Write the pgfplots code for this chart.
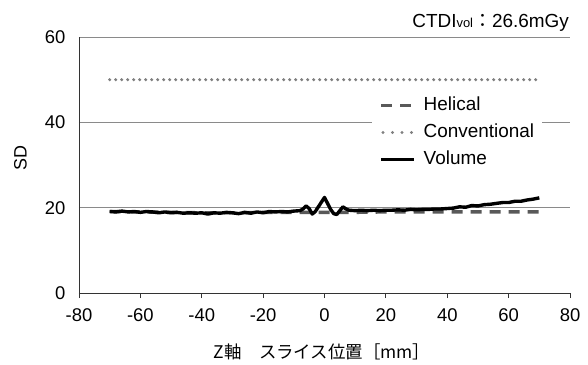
\documentclass[border=0pt]{standalone}
\usepackage{pgfplots}
\pgfplotsset{compat=1.18}
\usepackage{fontspec}
\setmainfont{Liberation Sans}
\newfontfamily\jp{Noto Sans CJK JP}

\definecolor{helgray}{HTML}{595959}
\definecolor{convgray}{HTML}{808080}
\definecolor{gridgray}{HTML}{8A8A8A}

% legend sample with wider dot spacing for the dotted series
\pgfplotsset{
  dotlegend/.style={
    legend image code/.code={\draw[##1, dash pattern=on 0bp off 9.5bp] (2bp,0bp) -- (33bp,0bp);}
  }
}

\pgfplotstableread{
z    sd
-70  19.1
-60  19.0
-50  18.9
-40  18.8
-30  18.8
-20  18.9
-10  18.9
0    18.9
10   18.9
20   19.0
30   19.0
40   19.0
50   19.0
60   19.0
70   19.0
}\helical

\pgfplotstableread{
z    sd
-70  50
70   50
}\conventional

\pgfplotstableread{
z    sd
-70  19.1
-68  19.0
-66  19.2
-64  19.0
-62  19.1
-60  18.9
-58  19.1
-56  19.0
-54  18.8
-52  19.0
-50  18.8
-48  18.9
-46  18.7
-44  18.8
-42  18.7
-40  18.8
-38  18.5
-36  18.8
-34  18.7
-32  18.9
-30  18.8
-28  18.6
-26  18.9
-24  18.7
-22  19.0
-20  18.8
-18  19.1
-16  19.0
-14  19.1
-12  19.0
-10  19.2
-8   19.3
-7   19.7
-6   20.4
-5   19.8
-4   18.5
-3   19.1
-2   20.2
-1   21.3
0    22.4
1    21.0
2    19.6
3    18.6
4    18.4
5    19.3
6    20.2
7    19.7
8    19.4
10   19.3
12   19.4
14   19.3
16   19.4
18   19.3
20   19.4
22   19.4
24   19.5
26   19.4
28   19.6
30   19.5
32   19.6
34   19.6
36   19.7
38   19.7
40   19.8
42   19.9
44   20.2
46   20.1
48   20.5
50   20.4
52   20.7
54   20.8
56   21.0
58   21.2
60   21.2
62   21.5
64   21.5
66   21.8
68   22.0
70   22.3
}\volume

\begin{document}
\begin{tikzpicture}
\begin{axis}[
  scale only axis,
  width=491bp, height=256bp,
  xmin=-80, xmax=80, ymin=0, ymax=60,
  xtick={-80,-60,...,80},
  ytick={0,20,40,60},
  axis x line*=bottom, axis y line*=left,
  axis line style={draw=black!80, line width=0.8pt},
  ymajorgrids,
  grid style={draw=gridgray, line width=0.7pt},
  x tick style={draw=black!80, line width=0.8pt},
  xtick align=outside,
  major tick length=5bp,
  y tick style={draw=none},
  /pgf/number format/assume math mode=true,
  tick label style={font=\fontsize{18.5}{22}\selectfont},
  yticklabel style={xshift=-10bp},
  xticklabel style={yshift=-7bp},
  xlabel={{\jp Z軸　スライス位置［mm］}},
  xlabel style={at={(axis description cs:0.495,-0.23)}, anchor=center, font=\fontsize{17.5}{21}\selectfont},
  ylabel={SD},
  ylabel style={at={(axis description cs:-0.1194,0.527)}, anchor=center, font=\fontsize{18}{21}\selectfont},
  clip=false,
  legend cell align=left,
  legend image code/.code={\draw[#1] (0bp,0bp) -- (33bp,0bp);},
  legend style={
    at={(rel axis cs:0.597,0.78)}, anchor=north west,
    draw=none, fill=white,
    inner xsep=7bp, inner ysep=2bp,
    font=\fontsize{19}{22}\selectfont,
    nodes={inner sep=1bp, text height=14bp, text depth=4bp},
    row sep=7bp,
    /tikz/every odd column/.append style={column sep=7bp},
  },
]
\addplot[helgray, line width=3.4pt, dash pattern=on 11bp off 8bp] table[x=z, y=sd] {\helical};
\addlegendentry{Helical}
\addplot[convgray, line width=3.3pt, line cap=round, dash pattern=on 0bp off 6bp, dotlegend]
  table[x=z, y=sd] {\conventional};
\addlegendentry{Conventional}
\addplot[black, line width=3.4pt, line join=round] table[x=z, y=sd] {\volume};
\addlegendentry{Volume}
\node[anchor=base east, inner sep=0pt, font=\fontsize{19}{22}\selectfont] at (rel axis cs:0.998,1.038)
  {CTDI{\fontsize{13}{15}\selectfont vol}{\jp ：}26.6mGy};
\coordinate (bl) at (rel axis cs:0,0);
\end{axis}
\pgfresetboundingbox
\path (bl) ++(-79bp,-72bp) rectangle ++(588bp,365bp);
\end{tikzpicture}
\end{document}
